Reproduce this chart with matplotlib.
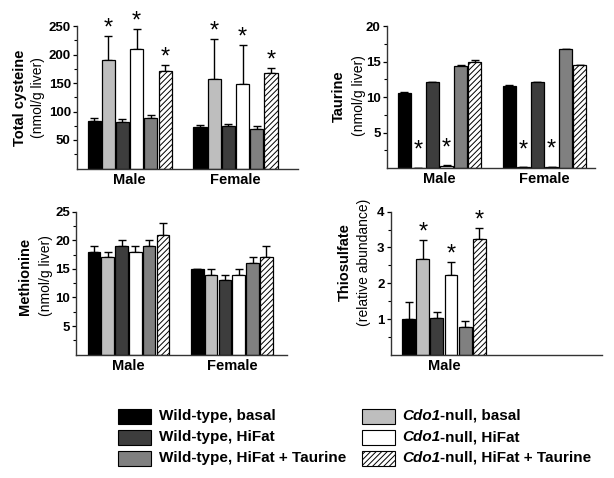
import numpy as np
import matplotlib.pyplot as plt
from matplotlib.patches import Rectangle

plt.rcParams['font.family'] = ['Liberation Sans', 'DejaVu Sans']

# Groups, in bar order
groups = ['Wild-type, basal', 'Cdo1-null, basal', 'Wild-type, HiFat',
          'Cdo1-null, HiFat', 'Wild-type, HiFat + Taurine', 'Cdo1-null, HiFat + Taurine']
sexes = ['Male', 'Female']

# Total cysteine (nmol/g liver)
cys_male = [84, 190, 81, 210, 89, 171]
cys_male_err = [5, 42, 5, 35, 5, 10]
cys_female = [72, 157, 75, 148, 70, 168]
cys_female_err = [4, 70, 3, 68, 5, 9]
cys_sig = [0, 1, 0, 1, 0, 1]

# Taurine (nmol/g liver)
tau_male = [10.5, 0.05, 12.05, 0.35, 14.35, 14.95]
tau_male_err = [0.25, 0.0, 0.1, 0.05, 0.1, 0.3]
tau_female = [11.55, 0.1, 12.05, 0.15, 16.7, 14.45]
tau_female_err = [0.1, 0.0, 0.1, 0.05, 0.1, 0.1]
tau_sig = [0, 1, 0, 1, 0, 0]

# Methionine (nmol/g liver)
met_male = [18, 17, 19, 18, 19, 21]
met_male_err = [1, 1, 1, 1, 1, 2]
met_female = [15, 14, 13, 14, 16, 17]
met_female_err = [0, 1, 1, 1, 1, 2]
met_sig = [0, 0, 0, 0, 0, 0]

# Thiosulfate (relative abundance), males only
thio_male = [1.0, 2.67, 1.02, 2.24, 0.78, 3.23]
thio_male_err = [0.47, 0.53, 0.19, 0.36, 0.17, 0.32]
thio_sig = [0, 1, 0, 1, 0, 1]

colors = ['#000000', '#bebebe', '#3d3d3d', '#ffffff', '#808080', '#ffffff']
hatches = [None, None, None, None, None, '//////']

W, H = 614, 478
fig = plt.figure(figsize=(W / 100, H / 100), dpi=100)
plt.rcParams['hatch.linewidth'] = 0.7


def px_axes(l, t, r, b):
    return fig.add_axes([l / W, 1 - b / H, (r - l) / W, (b - t) / H])


def panel(ax, series, sig, offset, xlim, ylim, major, minor, star_pts):
    centers = []
    for k, (vals, errs) in enumerate(series):
        x = np.arange(len(vals)) + k * offset
        ax.errorbar(x, vals, yerr=[np.zeros(len(errs)), errs], fmt='none',
                    ecolor='black', elinewidth=1, capsize=3, capthick=1, zorder=1)
        for i in range(len(vals)):
            ax.bar(x[i], vals[i], width=0.92, color=colors[i], edgecolor='black',
                   linewidth=0.9, hatch=hatches[i], zorder=2)
            if sig[i]:
                ax.annotate('*', xy=(x[i], vals[i] + errs[i]), xytext=(0, star_pts),
                            textcoords='offset points', ha='center', va='baseline',
                            fontsize=17)
        centers.append(x.mean())
    ax.set_xlim(*xlim)
    ax.set_ylim(*ylim)
    ax.set_xticks(centers)
    ax.set_xticklabels(sexes[:len(series)], fontsize=10.5, fontweight='bold')
    ax.tick_params(axis='x', length=0, pad=3)
    ax.set_yticks(major)
    ax.set_yticks(minor, minor=True)
    ax.set_yticklabels([f'{v:g}' for v in major], fontsize=9.5, fontweight='bold')
    ax.tick_params(axis='y', which='major', direction='out', length=3, width=0.9, pad=1.5)
    ax.tick_params(axis='y', which='minor', direction='out', length=2, width=0.8)
    for s in ['top', 'right']:
        ax.spines[s].set_visible(False)
    for s in ['left', 'bottom']:
        ax.spines[s].set_color('#333333')
        ax.spines[s].set_linewidth(1)


ax1 = px_axes(77, 26, 298, 168.5)
panel(ax1, [(cys_male, cys_male_err), (cys_female, cys_female_err)], cys_sig, 7.46,
      (-1.2, 14.36), (0, 250), np.arange(50, 251, 50), np.arange(25, 250, 50), 1)

ax2 = px_axes(387, 26, 595, 168)
panel(ax2, [(tau_male, tau_male_err), (tau_female, tau_female_err)], tau_sig, 7.46,
      (-1.23, 13.55), (0, 20), np.arange(5, 21, 5), np.arange(2.5, 20, 5), 8)

ax3 = px_axes(76, 211.7, 287, 354.6)
panel(ax3, [(met_male, met_male_err), (met_female, met_female_err)], met_sig, 7.5,
      (-1.3, 14.0), (0, 25), np.arange(5, 26, 5), np.arange(2.5, 25, 5), 1)

ax4 = px_axes(390.7, 211.7, 601.7, 354.8)
panel(ax4, [(thio_male, thio_male_err)], thio_sig, 0,
      (-1.28, 13.7), (0, 4), np.arange(1, 5, 1), np.arange(0.5, 4, 1), 1)

# y labels: bold name + plain unit line
ylabels = [
    ('Total cysteine', '(nmol/g liver)', 20, 38, 98),
    ('Taurine', '(nmol/g liver)', 339, 359, 96),
    ('Methionine', '(nmol/g liver)', 25, 46, 276),
    ('Thiosulfate', '(relative abundance)', 345, 364, 262),
]
for name, unit, x1, x2, yc in ylabels:
    fig.text(x1 / W, 1 - yc / H, name, rotation=90, ha='center', va='center',
             fontsize=10.5, fontweight='bold')
    fig.text(x2 / W, 1 - yc / H, unit, rotation=90, ha='center', va='center',
             fontsize=10)

# legend, drawn by hand so that "Cdo1" can be bold italic
renderer = fig.canvas.get_renderer()
rows = [416, 437, 458]
for n, label in enumerate(groups):
    col, row = n % 2, n // 2
    px0 = 118 if col == 0 else 362
    tx = 159 if col == 0 else 402
    y = 1 - rows[row] / H
    fig.patches.append(Rectangle((px0 / W, y - 7.5 / H), 33 / W, 15 / H,
                                 facecolor=colors[n], edgecolor='black', linewidth=0.8,
                                 hatch=hatches[n], transform=fig.transFigure, figure=fig))
    if label.startswith('Cdo1'):
        t = fig.text(tx / W, y, 'Cdo1', fontsize=11, fontweight='bold', style='italic',
                     va='center')
        bb = t.get_window_extent(renderer)
        fig.text(bb.x1 / W, y, label[4:], fontsize=11, fontweight='bold', va='center')
    else:
        fig.text(tx / W, y, label, fontsize=11, fontweight='bold', va='center')

fig.savefig('out.png', dpi=100)
